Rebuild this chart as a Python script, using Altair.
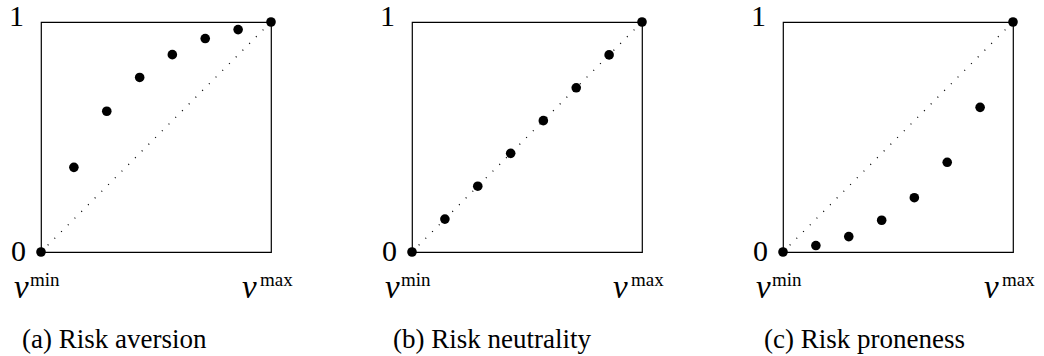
import altair as alt
import pandas as pd

# Lottery values (normalised from v_min to v_max) and the utility assigned to each
x_vals = [0.0, 0.143, 0.286, 0.429, 0.571, 0.714, 0.857, 1.0]
u_aversion = [0.0, 0.368, 0.612, 0.759, 0.858, 0.928, 0.967, 1.0]
u_neutrality = [0.0, 0.143, 0.286, 0.429, 0.571, 0.714, 0.857, 1.0]
u_proneness = [0.0, 0.028, 0.067, 0.138, 0.236, 0.390, 0.629, 1.0]

captions = ["(a) Risk aversion", "(b) Risk neutrality", "(c) Risk proneness"]

diag_x = [0.0, 1.0]
diag_y = [0.0, 1.0]

FONT = "Liberation Serif"
SIDE = 230

xs = alt.Scale(domain=[0, 1], nice=False, zero=False)
ys = alt.Scale(domain=[0, 1], nice=False, zero=False)


def X(v):
    return alt.X(datum=v, type="quantitative", scale=xs, axis=None)


def Y(v):
    return alt.Y(datum=v, type="quantitative", scale=ys, axis=None)


def label(text, xv, yv, size, dx, dy, align="left", italic=False):
    return alt.Chart().mark_text(
        text=text, font=FONT, fontSize=size, color="black", align=align,
        baseline="alphabetic", dx=dx, dy=dy,
        fontStyle="italic" if italic else "normal",
    ).encode(x=X(xv), y=Y(yv))


def panel(utility, caption):
    pts = pd.DataFrame({"v": x_vals, "u": utility})
    diag = pd.DataFrame({"v": diag_x, "u": diag_y})

    line = alt.Chart(diag).mark_line(
        color="black", strokeWidth=1.3, strokeDash=[1, 8.5], strokeCap="butt"
    ).encode(
        x=alt.X("v:Q", scale=xs, axis=None),
        y=alt.Y("u:Q", scale=ys, axis=None),
    )
    dots = alt.Chart(pts).mark_point(
        filled=True, size=92, color="black", opacity=1, shape="circle"
    ).encode(
        x=alt.X("v:Q", scale=xs, axis=None),
        y=alt.Y("u:Q", scale=ys, axis=None),
    )

    texts = [
        label("1", 0, 1, 30, -17, 4.3, align="right"),
        label("0", 0, 0, 30, -15, 8.6, align="right"),
        label("v", 0, 0, 33, -27, 46, italic=True),
        label("min", 0, 0, 19, -11, 34.3),
        label("v", 1, 0, 33, -29, 46, italic=True),
        label("max", 1, 0, 19, -11, 34.3),
        label(caption, 0, 0, 27, -19, 96),
    ]

    return alt.layer(line, dots, *texts).properties(width=SIDE, height=SIDE)


chart = alt.hconcat(
    panel(u_aversion, captions[0]),
    panel(u_neutrality, captions[1]),
    panel(u_proneness, captions[2]),
    spacing=141,
    bounds="flush",
).properties(
    autosize=alt.AutoSizeParams(type="pad"),
    padding={"left": 8, "top": 1, "right": 0, "bottom": 0},
    background="white",
).configure_view(
    stroke="black", strokeWidth=1.2
)

chart.save("out.html", embed_options={"renderer": "svg", "actions": False})
